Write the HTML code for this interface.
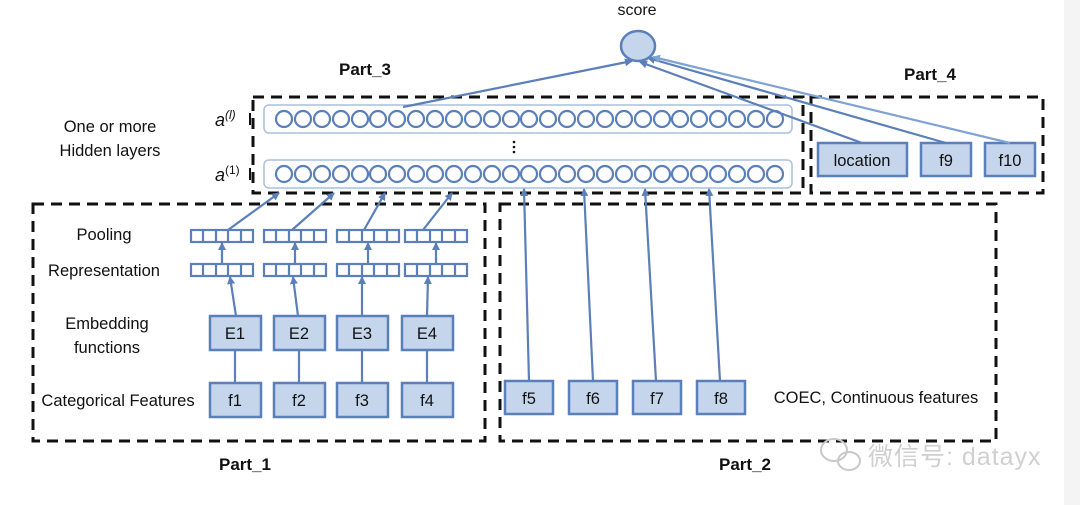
<!DOCTYPE html>
<html><head><meta charset="utf-8"><style>
html,body{margin:0;padding:0;background:#fff;}
svg{display:block;}
text{font-family:"Liberation Sans","Noto Sans CJK SC",sans-serif;}
</style></head><body>
<svg width="1080" height="505" viewBox="0 0 1080 505" xmlns="http://www.w3.org/2000/svg">
<defs>
<marker id="ar" markerWidth="8" markerHeight="8" refX="7" refY="4" orient="auto" markerUnits="userSpaceOnUse">
<path d="M0,0 L8,4 L0,8 z" fill="#5b7fb9"/></marker>
<marker id="ar2" markerWidth="8" markerHeight="8" refX="7" refY="4" orient="auto" markerUnits="userSpaceOnUse">
<path d="M0,0 L8,4 L0,8 z" fill="#7ea3d4"/></marker>
</defs>
<rect x="1064" y="0" width="16" height="505" fill="#f4f4f4"/>
<g fill="none" stroke="#111" stroke-width="3" stroke-dasharray="11,7">
<rect x="253" y="97" width="550" height="96"/>
<rect x="811" y="97" width="232" height="96"/>
<rect x="33" y="204" width="452" height="237"/>
<rect x="500" y="204" width="496" height="237"/>
</g>
<text x="637" y="15" font-size="16" text-anchor="middle" fill="#111">score</text>
<ellipse cx="638" cy="46" rx="17" ry="15" fill="#c5d6ec" stroke="#5b7fb9" stroke-width="2.5"/>
<g font-weight="bold" font-size="17" fill="#111" text-anchor="middle">
<text x="365" y="75">Part_3</text><text x="930" y="80">Part_4</text>
<text x="245" y="470">Part_1</text><text x="745" y="470">Part_2</text>
</g>
<g font-size="16.5" fill="#111" text-anchor="middle">
<text x="110" y="132">One or more</text><text x="110" y="156">Hidden layers</text>
<text x="104" y="240">Pooling</text><text x="104" y="276">Representation</text>
<text x="107" y="329">Embedding</text><text x="107" y="353">functions</text>
<text x="118" y="406">Categorical Features</text>
<text x="876" y="403">COEC, Continuous features</text>
</g>
<g font-family="Liberation Serif" font-style="italic" font-size="18" fill="#111">
<text x="215" y="126">a<tspan font-size="12" dy="-7" font-style="italic">(l)</tspan></text>
<text x="215" y="181">a<tspan font-size="12" dy="-7" font-style="normal">(1)</tspan></text>
</g>
<g fill="#111"><rect x="249" y="113" width="2" height="12"/><rect x="249" y="168" width="2" height="12"/></g>
<rect x="264" y="105" width="528" height="28" rx="5" fill="none" stroke="#a9c0e0" stroke-width="1.5"/>
<rect x="264" y="160" width="528" height="28" rx="5" fill="none" stroke="#a9c0e0" stroke-width="1.5"/>
<g id="circ" fill="none" stroke="#5b7fb9" stroke-width="2.2">
<circle cx="284" cy="119" r="8"/><circle cx="303" cy="119" r="8"/><circle cx="322" cy="119" r="8"/><circle cx="341" cy="119" r="8"/><circle cx="360" cy="119" r="8"/><circle cx="378" cy="119" r="8"/><circle cx="397" cy="119" r="8"/><circle cx="416" cy="119" r="8"/><circle cx="435" cy="119" r="8"/><circle cx="454" cy="119" r="8"/><circle cx="473" cy="119" r="8"/><circle cx="492" cy="119" r="8"/><circle cx="511" cy="119" r="8"/><circle cx="529" cy="119" r="8"/><circle cx="548" cy="119" r="8"/><circle cx="567" cy="119" r="8"/><circle cx="586" cy="119" r="8"/><circle cx="605" cy="119" r="8"/><circle cx="624" cy="119" r="8"/><circle cx="643" cy="119" r="8"/><circle cx="662" cy="119" r="8"/><circle cx="680" cy="119" r="8"/><circle cx="699" cy="119" r="8"/><circle cx="718" cy="119" r="8"/><circle cx="737" cy="119" r="8"/><circle cx="756" cy="119" r="8"/><circle cx="775" cy="119" r="8"/>
</g>
<use href="#circ" y="55"/>
<g fill="#111"><circle cx="514" cy="142" r="1.3"/><circle cx="514" cy="147" r="1.3"/><circle cx="514" cy="152" r="1.3"/></g>
<g fill="none" stroke="#5b7fb9" stroke-width="2.2">
<g id="vec"><rect x="191" y="230" width="62" height="12"/><line x1="203" y1="230" x2="203" y2="242"/><line x1="216" y1="230" x2="216" y2="242"/><line x1="228" y1="230" x2="228" y2="242"/><line x1="241" y1="230" x2="241" y2="242"/></g>
<use href="#vec" x="73"/><use href="#vec" x="146"/><use href="#vec" x="214"/>
<use href="#vec" y="34"/><use href="#vec" x="73" y="34"/><use href="#vec" x="146" y="34"/><use href="#vec" x="214" y="34"/>
</g>
<g fill="#c5d6ec" stroke="#5b7fb9" stroke-width="2.5">
<rect x="210" y="316" width="51" height="34"/><rect x="274" y="316" width="51" height="34"/><rect x="337" y="316" width="51" height="34"/><rect x="402" y="316" width="51" height="34"/>
<rect x="210" y="383" width="51" height="34"/><rect x="274" y="383" width="51" height="34"/><rect x="337" y="383" width="51" height="34"/><rect x="402" y="383" width="51" height="34"/>
<rect x="505" y="381" width="48" height="33"/><rect x="569" y="381" width="48" height="33"/><rect x="633" y="381" width="48" height="33"/><rect x="697" y="381" width="48" height="33"/>
<rect x="818" y="143" width="89" height="33"/><rect x="921" y="143" width="50" height="33"/><rect x="985" y="143" width="50" height="33"/>
</g>
<g font-size="16.5" fill="#111" text-anchor="middle">
<text x="235" y="339">E1</text><text x="299" y="339">E2</text><text x="362" y="339">E3</text><text x="427" y="339">E4</text>
<text x="235" y="406">f1</text><text x="299" y="406">f2</text><text x="362" y="406">f3</text><text x="427" y="406">f4</text>
<text x="529" y="404">f5</text><text x="593" y="404">f6</text><text x="657" y="404">f7</text><text x="721" y="404">f8</text>
<text x="862" y="166">location</text><text x="946" y="166">f9</text><text x="1010" y="166">f10</text>
</g>
<g stroke="#5b7fb9" stroke-width="2.2" fill="none">
<line x1="235" y1="383" x2="235" y2="350"/><line x1="299" y1="383" x2="299" y2="350"/><line x1="362" y1="383" x2="362" y2="350"/><line x1="427" y1="383" x2="427" y2="350"/>
<line x1="236" y1="316" x2="230" y2="277" marker-end="url(#ar)"/><line x1="298" y1="316" x2="293" y2="277" marker-end="url(#ar)"/><line x1="362" y1="316" x2="362" y2="277" marker-end="url(#ar)"/><line x1="427" y1="316" x2="428" y2="277" marker-end="url(#ar)"/>
<line x1="222" y1="264" x2="222" y2="243" marker-end="url(#ar)"/><line x1="295" y1="264" x2="295" y2="243" marker-end="url(#ar)"/><line x1="368" y1="264" x2="368" y2="243" marker-end="url(#ar)"/><line x1="436" y1="264" x2="436" y2="243" marker-end="url(#ar)"/>
<line x1="228" y1="230" x2="279" y2="193" marker-end="url(#ar)"/><line x1="292" y1="230" x2="334" y2="193" marker-end="url(#ar)"/><line x1="364" y1="230" x2="385" y2="193" marker-end="url(#ar)"/><line x1="423" y1="230" x2="452" y2="193" marker-end="url(#ar)"/>
<line x1="529" y1="381" x2="524" y2="189" marker-end="url(#ar)"/><line x1="593" y1="381" x2="584" y2="189" marker-end="url(#ar)"/><line x1="656" y1="381" x2="645" y2="189" marker-end="url(#ar)"/><line x1="720" y1="381" x2="709" y2="189" marker-end="url(#ar)"/>
<line x1="403" y1="107" x2="632" y2="61" marker-end="url(#ar)"/>
<line x1="862" y1="143" x2="640" y2="62" marker-end="url(#ar)"/>
<line x1="946" y1="143" x2="648" y2="58" marker-end="url(#ar)"/>
</g>
<line x1="1010" y1="143" x2="653" y2="57" stroke="#7ea3d4" stroke-width="2.2" marker-end="url(#ar2)"/>
<g fill="none" stroke="#c8c8c8" stroke-width="2">
<ellipse cx="834" cy="450" rx="13" ry="11"/><ellipse cx="849" cy="461" rx="11" ry="9"/>
</g>
<text x="868" y="465" font-size="25" fill="#d0d0d0" letter-spacing="1">微信号: datayx</text>
</svg>
</body></html>
